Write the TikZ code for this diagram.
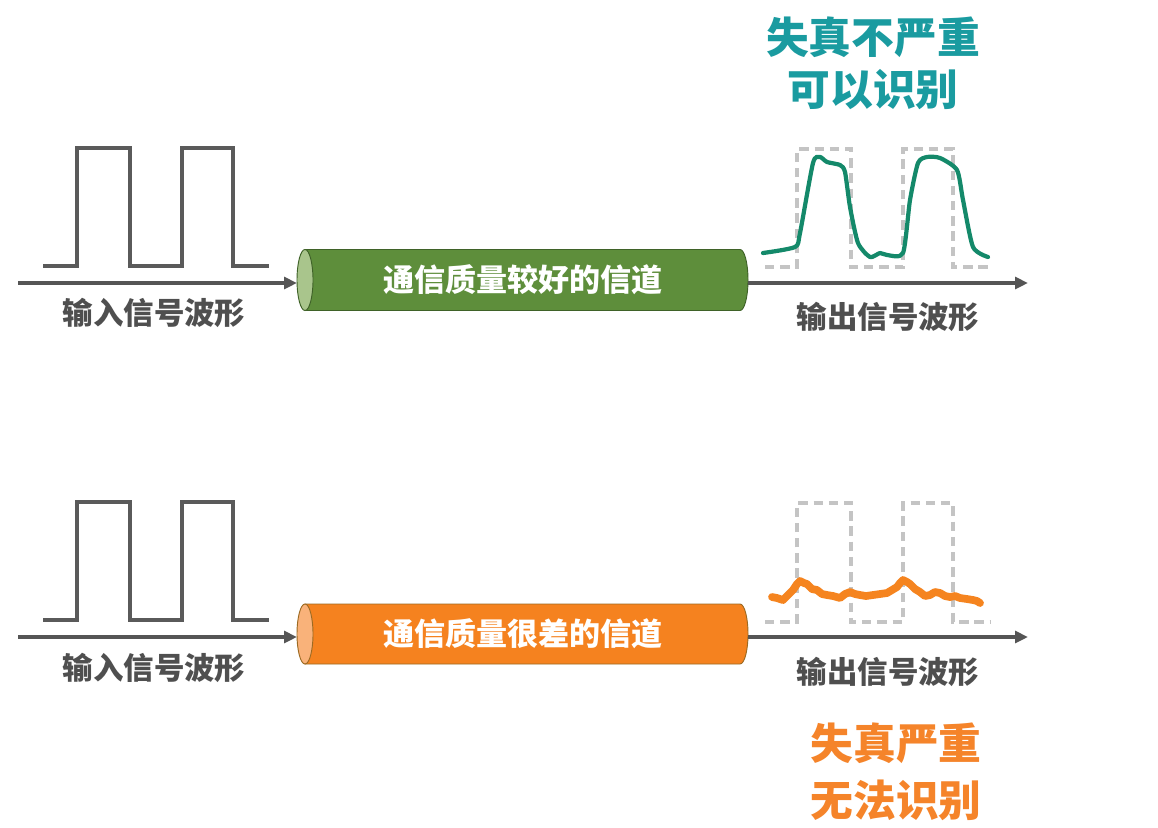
\documentclass[tikz,border=0pt]{standalone}
\usepackage{fontspec}
\newfontfamily\cjk{Noto Sans CJK SC}
\usetikzlibrary{arrows.meta}
\definecolor{axisgray}{HTML}{555555}
\definecolor{wavegray}{HTML}{5A5A5A}
\definecolor{refgray}{HTML}{C4C4C4}
\definecolor{labelgray}{HTML}{4F4F4F}
\definecolor{gbody}{HTML}{5E8E3B}
\definecolor{gface}{HTML}{A9C58C}
\definecolor{gedge}{HTML}{3F6228}
\definecolor{obody}{HTML}{F5821F}
\definecolor{oface}{HTML}{F9B27A}
\definecolor{oedge}{HTML}{9C6A22}
\definecolor{teal}{HTML}{1A9BA0}
\definecolor{orangetxt}{HTML}{F5842A}
\definecolor{goodwave}{HTML}{14896A}
\definecolor{badwave}{HTML}{F5841F}
\begin{document}
\begin{tikzpicture}[x=0.03cm,y=-0.03cm,
  wave/.style={line width=3.4pt, draw=wavegray},
  axisline/.style={line width=3pt, draw=axisgray, -{Triangle[length=11pt,width=10pt]}},
  refline/.style={line width=2.6pt, draw=refgray, dash pattern=on 8pt off 5pt},
  lbl/.style={font=\cjk\bfseries\fontsize{26}{30}\selectfont, text=labelgray, inner sep=0pt},
  chtext/.style={font=\cjk\bfseries\fontsize{26.5}{30}\selectfont, text=white, inner sep=0pt},
  titletext/.style={font=\cjk\bfseries\fontsize{36.5}{40}\selectfont, inner sep=0pt},
  goodcurve/.style={line width=3.6pt, draw=goodwave, line cap=round, line join=round},
  badcurve/.style={line width=6.6pt, draw=badwave, line cap=round, line join=round}
]
\useasboundingbox (0,0) rectangle (1158,827);
\fill[white] (0,0) rectangle (1158,827);

% ================= TOP ROW =================
\draw[wave] (43,266) -- (77,266) -- (77,148) -- (130,148) -- (130,266) -- (182,266) -- (182,148) -- (233,148) -- (233,266) -- (269,266);
\fill[gbody, draw=gedge, line width=0.8pt] (305,249.5) -- (740,249.5) arc[start angle=90, end angle=-90, x radius=0.24cm, y radius=0.915cm] -- (305,310.5) -- cycle;
\fill[gface, draw=gedge, line width=0.8pt] (305,280) ellipse[x radius=0.24cm, y radius=0.915cm];
\node[chtext] (ch1) at (523,280) {通信质量较好的信道};
\coordinate (a1s) at (18,283);
\coordinate (c1w) at (297,283);
\coordinate (c1e) at (748,283);
\coordinate (a1e) at (1028,283);
\draw[axisline] (a1s) -- (c1w);
\draw[axisline] (c1e) -- (a1e);
\node[lbl] (in1) at (154,313) {输入信号波形};
\draw[refline] (765,267) -- (797,267) -- (797,149) -- (851,149) -- (851,267) -- (903,267) -- (903,149) -- (953,149) -- (953,267) -- (990,267);
\draw[goodcurve] plot[smooth, tension=0.4] coordinates {(763,253) (795,247) (800,233) (813,163) (820,157) (827,162) (840,165) (845,172) (850,207) (858,243) (870,257) (880,253) (887,255) (903,253) (910,200) (918,163) (927,157) (940,158) (957,170) (963,200) (973,247) (988,257)};
\node[lbl] (out1) at (888,317) {输出信号波形};
\node[titletext, text=teal] (t1a) at (873,37) {失真不严重};
\node[titletext, text=teal] (t1b) at (873,90) {可以识别};

% ================= BOTTOM ROW =================
\draw[wave] (43,620) -- (77,620) -- (77,502) -- (130,502) -- (130,620) -- (182,620) -- (182,502) -- (233,502) -- (233,620) -- (269,620);
\fill[obody, draw=oedge, line width=0.8pt] (305,604) -- (740,604) arc[start angle=90, end angle=-90, x radius=0.24cm, y radius=0.9cm] -- (305,664) -- cycle;
\fill[oface, draw=oedge, line width=0.8pt] (305,634) ellipse[x radius=0.24cm, y radius=0.9cm];
\node[chtext] (ch2) at (523,634) {通信质量很差的信道};
\coordinate (a2s) at (18,637);
\coordinate (c2w) at (297,637);
\coordinate (c2e) at (748,637);
\coordinate (a2e) at (1028,637);
\draw[axisline] (a2s) -- (c2w);
\draw[axisline] (c2e) -- (a2e);
\node[lbl] (in2) at (154,668) {输入信号波形};
\draw[refline] (765,622) -- (797,622) -- (797,503) -- (851,503) -- (851,622) -- (903,622) -- (903,503) -- (953,503) -- (953,622) -- (990,622);
\draw[badcurve] (772,597) -- (777,598) -- (783,600) -- (788,595) -- (793,590) -- (797,584) -- (800,581) -- (804,583) -- (807,584) -- (812,589) -- (817,590) -- (822,594) -- (827,595) -- (833,596) -- (840,598) -- (845,594) -- (850,592) -- (855,594) -- (860,595) -- (866,596) -- (873,595) -- (880,594) -- (887,593) -- (892,590) -- (897,587) -- (900,583) -- (903,580) -- (907,582) -- (910,584) -- (915,589) -- (920,592) -- (925,596) -- (930,595) -- (935,592) -- (940,593) -- (945,596) -- (950,597) -- (955,596) -- (960,598) -- (967,599) -- (973,600) -- (977,601) -- (980,603);
\node[lbl] (out2) at (888,672) {输出信号波形};
\node[titletext, text=orangetxt] (t2a) at (896,743) {失真严重};
\node[titletext, text=orangetxt] (t2b) at (896,800) {无法识别};
\end{tikzpicture}
\end{document}
